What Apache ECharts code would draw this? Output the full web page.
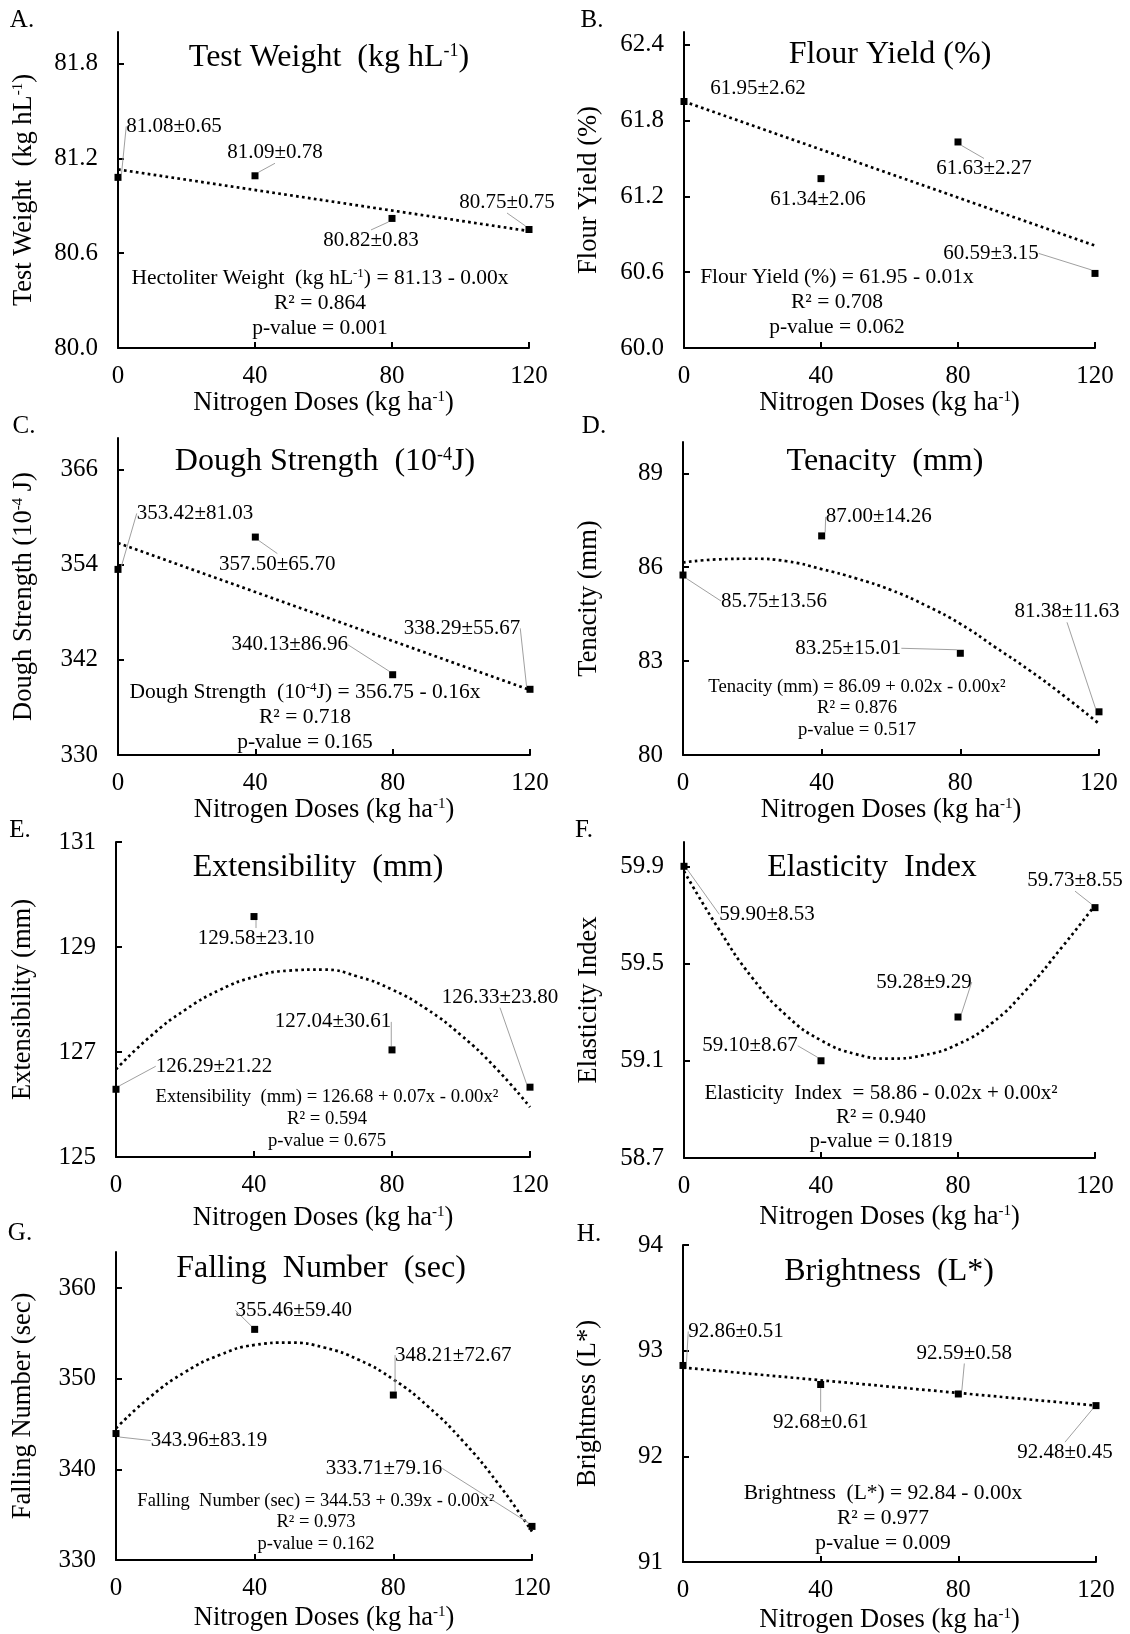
<!DOCTYPE html>
<html><head><meta charset="utf-8">
<script src="https://cdn.jsdelivr.net/npm/echarts@6/dist/echarts.min.js"></script>
<style>html,body{margin:0;padding:0;background:#fff}#c{width:1130px;height:1634px}</style>
</head><body><div id="c"></div>
<script>
// ---------------- DATA ----------------
const doses = [0, 40, 80, 120];
const xTicks = [0, 40, 80, 120];
const trendX = [0, 10, 20, 30, 40, 50, 60, 70, 80, 90, 100, 110, 120];
const linTrendX = [0, 120];

// A. Test weight
const testWeightMean = [81.08, 81.09, 80.82, 80.75];
const testWeightSD = [0.65, 0.78, 0.83, 0.75];
const testWeightTrend = [81.13, 80.74];
const testWeightTicks = [80.0, 80.6, 81.2, 81.8];
const testWeightEq = ['Hectoliter Weight  (kg hL{sup|-1}) = 81.13 - 0.00x', 'R² = 0.864', 'p-value = 0.001'];

// B. Flour yield
const flourYieldMean = [61.95, 61.34, 61.63, 60.59];
const flourYieldSD = [2.62, 2.06, 2.27, 3.15];
const flourYieldTrend = [61.95, 60.81];
const flourYieldTicks = [60.0, 60.6, 61.2, 61.8, 62.4];
const flourYieldEq = ['Flour Yield (%) = 61.95 - 0.01x', 'R² = 0.708', 'p-value = 0.062'];

// C. Dough strength
const doughStrengthMean = [353.42, 357.50, 340.13, 338.29];
const doughStrengthSD = [81.03, 65.70, 86.96, 55.67];
const doughStrengthTrend = [356.75, 338.2];
const doughStrengthTicks = [330, 342, 354, 366];
const doughStrengthEq = ['Dough Strength  (10{sup|-4}J) = 356.75 - 0.16x', 'R² = 0.718', 'p-value = 0.165'];

// D. Tenacity
const tenacityMean = [85.75, 87.00, 83.25, 81.38];
const tenacitySD = [13.56, 14.26, 15.01, 11.63];
const tenacityTrend = [86.15, 86.25, 86.27, 86.19, 85.94, 85.64, 85.27, 84.78, 84.19, 83.45, 82.70, 81.88, 81.0];
const tenacityTicks = [80, 83, 86, 89];
const tenacityEq = ['Tenacity (mm) = 86.09 + 0.02x - 0.00x²', 'R² = 0.876', 'p-value = 0.517'];

// E. Extensibility
const extensibilityMean = [126.29, 129.58, 127.04, 126.33];
const extensibilitySD = [21.22, 23.10, 30.61, 23.80];
const extensibilityTrend = [126.67, 127.30, 127.80, 128.18, 128.43, 128.55, 128.57, 128.44, 128.19, 127.82, 127.32, 126.70, 125.95];
const extensibilityTicks = [125, 127, 129, 131];
const extensibilityEq = ['Extensibility  (mm) = 126.68 + 0.07x - 0.00x²', 'R² = 0.594', 'p-value = 0.675'];

// F. Elasticity index
const elasticityMean = [59.90, 59.10, 59.28, 59.73];
const elasticitySD = [8.53, 8.67, 9.29, 8.55];
const elasticityTrend = [59.88, 59.645, 59.44, 59.285, 59.184, 59.128, 59.109, 59.123, 59.168, 59.256, 59.393, 59.561, 59.74];
const elasticityTicks = [58.7, 59.1, 59.5, 59.9];
const elasticityEq = ['Elasticity  Index  = 58.86 - 0.02x + 0.00x²', 'R² = 0.940', 'p-value = 0.1819'];

// G. Falling number
const fallingNumberMean = [343.96, 355.46, 348.21, 333.71];
const fallingNumberSD = [83.19, 59.40, 72.67, 79.16];
const fallingNumberTrend = [344.54, 348.05, 350.76, 352.65, 353.74, 354.00, 353.46, 352.10, 349.94, 346.95, 343.16, 338.55, 333.14];
const fallingNumberTicks = [330, 340, 350, 360];
const fallingNumberEq = ['Falling  Number (sec) = 344.53 + 0.39x - 0.00x²', 'R² = 0.973', 'p-value = 0.162'];

// H. Brightness
const brightnessMean = [92.86, 92.68, 92.59, 92.48];
const brightnessSD = [0.51, 0.61, 0.58, 0.45];
const brightnessTrend = [92.84, 92.48];
const brightnessTicks = [91, 92, 93, 94];
const brightnessEq = ['Brightness  (L*) = 92.84 - 0.00x', 'R² = 0.977', 'p-value = 0.009'];

const xName = 'Nitrogen Doses (kg ha{sup|-1})';

// ---------------- LAYOUT / STYLE ----------------
const FONT = 'Liberation Serif';
const TXT = '#000';
const TICK_FS = 25, NAME_FS = 26.5, TITLE_FS = 32, LABEL_FS = 21;

const panels = [
  {letter:'A.', lp:[22,20], title:'Test Weight  (kg hL{sup|-1})', tp:[329,58], yName:'Test Weight  (kg hL{sup|-1})',
   mean:testWeightMean, sd:testWeightSD, tx:linTrendX, ty:testWeightTrend, ticks:testWeightTicks, dec:1, ymin:80, ymax:82,
   grid:[118,32,411,316], yGap:80, xGap:42, eq:testWeightEq, ep:[320,278], es:25, ef:21.5,
   off:[[56,-51],[20,-23],[-21,22],[-22,-27]], noLine:[]},
  {letter:'B.', lp:[592,20], title:'Flour Yield (%)', tp:[890,55], yName:'Flour Yield (%)',
   mean:flourYieldMean, sd:flourYieldSD, tx:linTrendX, ty:flourYieldTrend, ticks:flourYieldTicks, dec:1, ymin:60, ymax:62.5,
   grid:[684,32,411,316], yGap:81, xGap:42, eq:flourYieldEq, ep:[837,277], es:25, ef:21.5,
   off:[[74,-13],[-3,21],[26,27],[-104,-20]], noLine:[0,1]},
  {letter:'C.', lp:[24,426], title:'Dough Strength  (10{sup|-4}J)', tp:[325,462], yName:'Dough Strength (10{sup|-4} J)',
   mean:doughStrengthMean, sd:doughStrengthSD, tx:linTrendX, ty:doughStrengthTrend, ticks:doughStrengthTicks, dec:0, ymin:330, ymax:370,
   grid:[118,438,412,317], yGap:80, xGap:40, eq:doughStrengthEq, ep:[305,692], es:25, ef:21.5,
   off:[[77,-56],[22,27],[-103,-30],[-68,-61]], noLine:[]},
  {letter:'D.', lp:[594,426], title:'Tenacity  (mm)', tp:[885,462], yName:'Tenacity (mm)',
   mean:tenacityMean, sd:tenacitySD, tx:trendX, ty:tenacityTrend, ticks:tenacityTicks, dec:0, ymin:80, ymax:90,
   grid:[683,442,416,313], yGap:80, xGap:40, eq:tenacityEq, ep:[857,687], es:21.5, ef:18.7,
   off:[[91,26],[57,-19],[-112,-5],[-32,-100]], noLine:[]},
  {letter:'E.', lp:[20,830], title:'Extensibility  (mm)', tp:[318,868], yName:'Extensibility (mm)',
   mean:extensibilityMean, sd:extensibilitySD, tx:trendX, ty:extensibilityTrend, ticks:extensibilityTicks, dec:0, ymin:125, ymax:131,
   grid:[116,842,414,315], yGap:79, xGap:48, eq:extensibilityEq, ep:[327,1097], es:22, ef:18.7,
   off:[[98,-23],[2,22],[-59,-28],[-30,-90]], noLine:[]},
  {letter:'F.', lp:[584,830], title:'Elasticity  Index', tp:[872,868], yName:'Elasticity Index',
   mean:elasticityMean, sd:elasticitySD, tx:trendX, ty:elasticityTrend, ticks:elasticityTicks, dec:1, ymin:58.7, ymax:60.0,
   grid:[684,842,411,316], yGap:81, xGap:46, eq:elasticityEq, ep:[881,1093], es:24, ef:21,
   off:[[83,48],[-71,-15],[-34,-35],[-20,-27]], noLine:[]},
  {letter:'G.', lp:[20,1233], title:'Falling  Number  (sec)', tp:[321,1269], yName:'Falling Number (sec)',
   mean:fallingNumberMean, sd:fallingNumberSD, tx:trendX, ty:fallingNumberTrend, ticks:fallingNumberTicks, dec:0, ymin:330, ymax:364,
   grid:[116,1252,416,308], yGap:79, xGap:45, eq:fallingNumberEq, ep:[316,1501], es:21.5, ef:18.5,
   off:[[93,7],[39,-19],[60,-40],[-148,-58]], noLine:[]},
  {letter:'H.', lp:[589,1234], title:'Brightness  (L*)', tp:[889,1272], yName:'Brightness (L*)',
   mean:brightnessMean, sd:brightnessSD, tx:linTrendX, ty:brightnessTrend, ticks:brightnessTicks, dec:0, ymin:91, ymax:94,
   grid:[683,1245,413,317], yGap:81, xGap:45, eq:brightnessEq, ep:[883,1493], es:25, ef:21.5,
   off:[[53,-34],[0,38],[6,-41],[-31,47]], noLine:[]}
];

function sup(size) {
  return { sup: { fontSize: size, fontFamily: FONT, color: TXT, verticalAlign: 'top' } };
}

const option = {
  animation: false,
  backgroundColor: '#ffffff',
  textStyle: { fontFamily: FONT, color: TXT },
  grid: [], xAxis: [], yAxis: [], series: [], graphic: []
};

const axisLineStyle = { color: '#000', width: 2 };

panels.forEach((p, i) => {
  option.grid.push({ left: p.grid[0], top: p.grid[1], width: p.grid[2], height: p.grid[3],
    containLabel: false, outerBoundsMode: 'none', show: false });
  option.xAxis.push({
    type: 'value', gridIndex: i, min: 0, max: 120, interval: 40,
    name: xName, nameLocation: 'middle', nameGap: p.xGap,
    nameTextStyle: { fontFamily: FONT, fontSize: NAME_FS, color: TXT, rich: sup(15) },
    axisLine: { show: true, onZero: false, lineStyle: axisLineStyle },
    axisTick: { show: true, inside: true, length: 6, customValues: xTicks, lineStyle: axisLineStyle },
    axisLabel: { show: true, margin: 16, fontSize: TICK_FS, fontFamily: FONT, color: TXT, customValues: xTicks },
    splitLine: { show: false }
  });
  option.yAxis.push({
    type: 'value', gridIndex: i, min: p.ymin, max: p.ymax,
    name: p.yName, nameLocation: 'middle', nameGap: p.yGap, nameRotate: 90,
    nameTextStyle: { fontFamily: FONT, fontSize: NAME_FS, color: TXT, rich: sup(15) },
    axisLine: { show: true, onZero: false, lineStyle: axisLineStyle },
    axisTick: { show: true, inside: true, length: 6, customValues: p.ticks, lineStyle: axisLineStyle },
    axisLabel: { show: true, margin: 20, fontSize: TICK_FS, fontFamily: FONT, color: TXT, customValues: p.ticks,
      formatter: v => Number(v).toFixed(p.dec) },
    splitLine: { show: false }
  });
  // trend line
  option.series.push({
    type: 'line', xAxisIndex: i, yAxisIndex: i, silent: true, clip: false,
    data: p.tx.map((x, k) => [x, p.ty[k]]),
    smooth: p.tx.length > 2 ? 0.5 : false,
    showSymbol: false, symbol: 'none',
    lineStyle: { color: '#000', width: 2.7, type: [2.7, 3.3], opacity: 1 },
    z: 2
  });
  // data points
  option.series.push({
    type: 'scatter', xAxisIndex: i, yAxisIndex: i, clip: false,
    data: doses.map((x, j) => {
      const d = { value: [x, p.mean[j]] };
      if (p.noLine.indexOf(j) >= 0) d.labelLine = { show: false };
      return d;
    }),
    symbol: 'rect', symbolSize: 7,
    itemStyle: { color: '#000', opacity: 1 },
    label: { show: true, position: 'inside', fontSize: LABEL_FS, fontFamily: FONT, color: TXT, textBorderWidth: 0, opacity: 1,
      formatter: prm => p.mean[prm.dataIndex].toFixed(2) + '±' + p.sd[prm.dataIndex].toFixed(2) },
    labelLine: { show: true, lineStyle: { color: '#a0a0a0', width: 1, opacity: 1 } },
    labelLayout: prm => {
      const o = p.off[prm.dataIndex];
      const r = prm.rect;
      return { x: r.x + r.width / 2 + o[0], y: r.y + r.height / 2 + o[1], align: 'center', verticalAlign: 'middle' };
    },
    z: 3
  });
  // panel letter, title, equation
  option.graphic.push({ type: 'text', x: p.lp[0], y: p.lp[1], silent: true,
    style: { text: p.letter, fontSize: 25, fontFamily: FONT, fill: TXT, align: 'center', verticalAlign: 'middle' } });
  option.graphic.push({ type: 'text', x: p.tp[0], y: p.tp[1], silent: true,
    style: { text: p.title, fontSize: TITLE_FS, fontFamily: FONT, fill: TXT, align: 'center', verticalAlign: 'middle',
      rich: { sup: { fontSize: 18, fontFamily: FONT, fill: TXT, verticalAlign: 'top' } } } });
  p.eq.forEach((line, k) => {
    option.graphic.push({ type: 'text', x: p.ep[0], y: p.ep[1] + k * p.es, silent: true,
      style: { text: line, fontSize: p.ef, fontFamily: FONT, fill: TXT, align: 'center', verticalAlign: 'middle',
        rich: { sup: { fontSize: Math.round(p.ef * 0.6), fontFamily: FONT, fill: TXT, verticalAlign: 'top' } } } });
  });
});

const chart = echarts.init(document.getElementById('c'), null, { renderer: 'canvas', width: 1130, height: 1634 });
chart.setOption(option);
</script>
</body></html>
